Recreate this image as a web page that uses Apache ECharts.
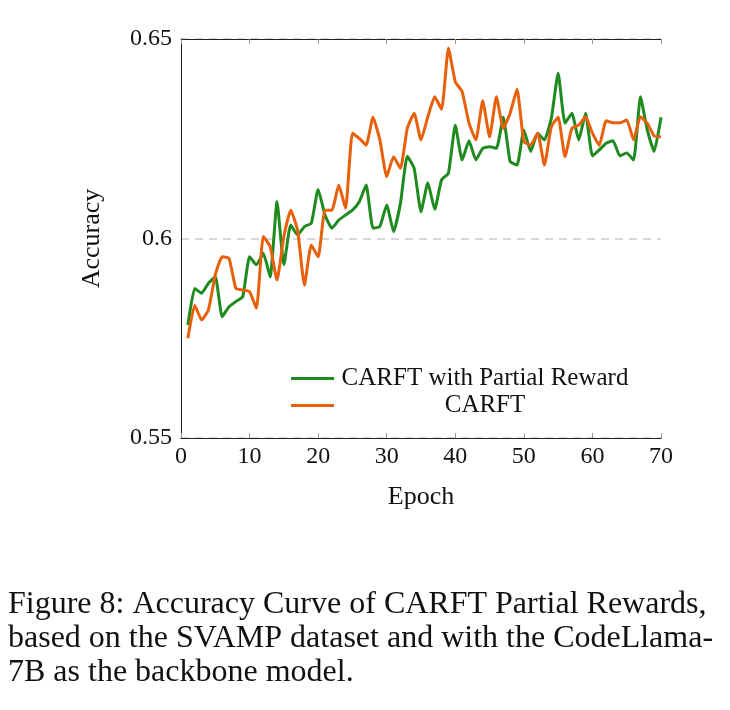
<!DOCTYPE html>
<html>
<head>
<meta charset="utf-8">
<script src="https://cdn.jsdelivr.net/npm/echarts@6/dist/echarts.min.js"></script>
<style>
  html, body { margin: 0; padding: 0; background: #fff; }
  #main { width: 730px; height: 710px; }
</style>
</head>
<body>
<div id="main"></div>
<script>
// epochs 1..70
var epochs = [];
for (var i = 1; i <= 70; i++) epochs.push(i);

var partialReward = [
  0.5783, 0.5875, 0.5863, 0.5888, 0.5904, 0.5804, 0.5829, 0.5842, 0.5854, 0.5954,
  0.5934, 0.5963, 0.5904, 0.6092, 0.5934, 0.6034, 0.6009, 0.6030, 0.6038, 0.6123,
  0.6059, 0.6026, 0.6046, 0.6059, 0.6071, 0.6092, 0.6134, 0.6026, 0.6030, 0.6084,
  0.6017, 0.6088, 0.6206, 0.6176, 0.6067, 0.6140, 0.6073, 0.6147, 0.6164, 0.6284,
  0.6197, 0.6245, 0.6197, 0.6226, 0.6230, 0.6226, 0.6304, 0.6193, 0.6184, 0.6272,
  0.6218, 0.6264, 0.6247, 0.6301, 0.6414, 0.6289, 0.6314, 0.6247, 0.6314, 0.6207,
  0.6222, 0.6239, 0.6245, 0.6207, 0.6214, 0.6197, 0.6355, 0.6272, 0.6218, 0.6304
];

var carft = [
  0.5750, 0.5833, 0.5796, 0.5821, 0.5909, 0.5954, 0.5950, 0.5875, 0.5871, 0.5867,
  0.5825, 0.6005, 0.5980, 0.5896, 0.6005, 0.6071, 0.6021, 0.5883, 0.5984, 0.5954,
  0.6071, 0.6071, 0.6134, 0.6076, 0.6264, 0.6251, 0.6234, 0.6304, 0.6247, 0.6155,
  0.6205, 0.6176, 0.6276, 0.6314, 0.6247, 0.6305, 0.6355, 0.6324, 0.6477, 0.6393,
  0.6368, 0.6289, 0.6247, 0.6345, 0.6255, 0.6355, 0.6276, 0.6314, 0.6374, 0.6243,
  0.6234, 0.6264, 0.6184, 0.6280, 0.6304, 0.6205, 0.6276, 0.6284, 0.6305, 0.6264,
  0.6234, 0.6295, 0.6290, 0.6290, 0.6297, 0.6247, 0.6305, 0.6289, 0.6257, 0.6255
];

var seriesNames = ['CARFT with Partial Reward', 'CARFT'];
var captionLines = [
  'Figure 8: Accuracy Curve of CARFT Partial Rewards,',
  'based on the SVAMP dataset and with the CodeLlama-',
  '7B as the backbone model.'
];

function pairs(vals) {
  return vals.map(function (v, i) { return [epochs[i], v]; });
}

var serif = '"Liberation Serif", "DejaVu Serif", serif';
var chart = echarts.init(document.getElementById('main'), null, { renderer: 'canvas' });

chart.setOption({
  animation: false,
  backgroundColor: '#fff',
  grid: { left: 181, top: 39, right: 69, bottom: 272, containLabel: false },
  legend: {
    orient: 'vertical',
    left: 286,
    top: 361,
    itemWidth: 43,
    itemHeight: 3,
    itemGap: 2,
    icon: 'rect',
    data: seriesNames,
    formatter: function (n) { return '{c|' + n + '}'; },
    textStyle: {
      fontFamily: serif,
      color: '#111',
      rich: { c: { width: 292, align: 'center', fontSize: 25, fontFamily: serif, lineHeight: 27 } }
    }
  },
  xAxis: [{
    type: 'value', min: 0, max: 70, interval: 10,
    name: 'Epoch', nameLocation: 'middle', nameGap: 46,
    nameTextStyle: { fontFamily: serif, fontSize: 26, color: '#111' },
    axisLine: { lineStyle: { color: '#222', width: 1 } },
    axisTick: { inside: true, length: 5, lineStyle: { color: '#999' } },
    axisLabel: { fontFamily: serif, fontSize: 24, color: '#111', margin: 7 },
    splitLine: { show: false }
  }, {
    type: 'value', min: 0, max: 70, interval: 10, position: 'top',
    axisLine: { lineStyle: { color: '#222', width: 1 } },
    axisTick: { inside: true, length: 5, lineStyle: { color: '#999' } },
    axisLabel: { show: false },
    splitLine: { show: false }
  }],
  yAxis: [{
    type: 'value', min: 0.55, max: 0.65, interval: 0.05,
    name: 'Accuracy', nameLocation: 'middle', nameGap: 76, nameRotate: 90,
    nameTextStyle: { fontFamily: serif, fontSize: 26, color: '#111' },
    axisLine: { show: true, lineStyle: { color: '#222', width: 1 } },
    axisTick: { show: false },
    axisLabel: { fontFamily: serif, fontSize: 24, color: '#111', margin: 9 },
    splitLine: { show: true, lineStyle: { color: '#ccc', type: [8, 6], width: 1.5 } }
  }, {
    type: 'value', min: 0.55, max: 0.65, interval: 0.05, position: 'right',
    axisLine: { show: true, lineStyle: { color: '#222', width: 1 } },
    axisTick: { show: false },
    axisLabel: { show: false },
    splitLine: { show: false }
  }],
  series: [{
    name: seriesNames[0], type: 'line', data: pairs(partialReward),
    smooth: 0.15, showSymbol: false, z: 3,
    itemStyle: { color: '#1f8a1f' },
    lineStyle: { color: '#1f8a1f', width: 3 }
  }, {
    name: seriesNames[1], type: 'line', data: pairs(carft),
    smooth: 0.15, showSymbol: false, z: 4,
    itemStyle: { color: '#e8600c' },
    lineStyle: { color: '#e8600c', width: 3 }
  }],
  graphic: captionLines.map(function (t, i) {
    return {
      type: 'text', left: 8, top: 589 + i * 34,
      style: { text: t, fontFamily: '"Liberation Serif", "Times New Roman", serif', fontSize: 32, fill: '#111' }
    };
  })
});
</script>
</body>
</html>
